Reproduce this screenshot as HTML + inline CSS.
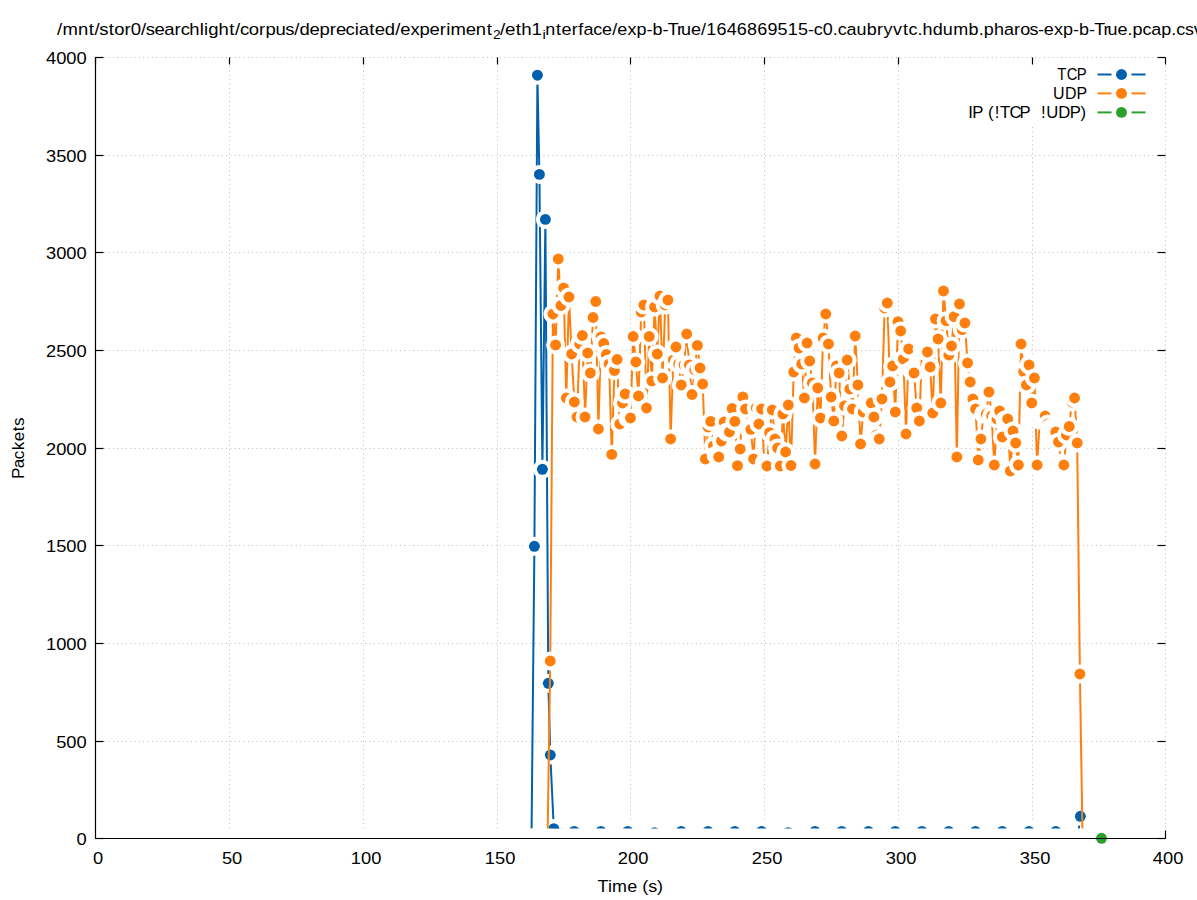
<!DOCTYPE html>
<html><head><meta charset="utf-8"><style>
html,body{margin:0;padding:0;background:#fff;}
svg{display:block;}
text{font-family:"Liberation Sans",sans-serif;font-size:16px;fill:#000;}
</style></head><body>
<svg width="1197" height="900" viewBox="0 0 1197 900">
<rect x="0" y="0" width="1197" height="900" fill="#fff"/>
<defs><clipPath id="cp"><rect x="95" y="57" width="1071" height="771.5"/></clipPath></defs>
<g clip-path="url(#cp)">
<g stroke="#bcbcbc" stroke-width="1" stroke-dasharray="1 3.35" fill="none">
<line x1="95.5" y1="741.5" x2="1165.5" y2="741.5"/>
<line x1="95.5" y1="643.5" x2="1165.5" y2="643.5"/>
<line x1="95.5" y1="545.5" x2="1165.5" y2="545.5"/>
<line x1="95.5" y1="448.5" x2="1165.5" y2="448.5"/>
<line x1="95.5" y1="350.5" x2="1165.5" y2="350.5"/>
<line x1="95.5" y1="252.5" x2="1165.5" y2="252.5"/>
<line x1="95.5" y1="155.5" x2="1165.5" y2="155.5"/>
<line x1="95.5" y1="57.5" x2="1165.5" y2="57.5"/>
<line x1="229.5" y1="57.5" x2="229.5" y2="838.5"/>
<line x1="363.5" y1="57.5" x2="363.5" y2="838.5"/>
<line x1="497.5" y1="57.5" x2="497.5" y2="838.5"/>
<line x1="630.5" y1="57.5" x2="630.5" y2="838.5"/>
<line x1="764.5" y1="57.5" x2="764.5" y2="838.5"/>
<line x1="898.5" y1="57.5" x2="898.5" y2="838.5"/>
<line x1="1032.5" y1="57.5" x2="1032.5" y2="838.5"/>
<line x1="1165.5" y1="57.5" x2="1165.5" y2="838.5"/>
</g>
<rect x="955" y="65" width="200" height="59.5" fill="#fff"/>
<path d="M531.5,838 L534.4,546.3 L537.4,75.2 L539.4,174.4 L542.4,469.3 L545.4,219.4 L548.3,683.3 L550.3,755 L553.8,828.6 L574.2,831.4 L600.95,831.4 L627.7,831.4 L654.45,832.6 L681.2,831.4 L707.95,831.4 L734.7,831.4 L761.45,831.4 L788.2,832.6 L814.95,831.4 L841.7,831.4 L868.45,831.4 L895.2,831.4 L921.95,831.4 L948.7,831.4 L975.45,831.4 L1002.2,831.4 L1028.95,831.4 L1055.7,831.4 L1077.7,838 L1080.4,816.3" fill="none" stroke="#0060ad" stroke-width="2" stroke-linejoin="round"/>
<circle cx="531.5" cy="838" r="9.5" fill="#fff"/><circle cx="531.5" cy="838" r="5.45" fill="#0060ad"/>
<circle cx="534.4" cy="546.3" r="9.5" fill="#fff"/><circle cx="534.4" cy="546.3" r="5.45" fill="#0060ad"/>
<circle cx="537.4" cy="75.2" r="9.5" fill="#fff"/><circle cx="537.4" cy="75.2" r="5.45" fill="#0060ad"/>
<circle cx="539.4" cy="174.4" r="9.5" fill="#fff"/><circle cx="539.4" cy="174.4" r="5.45" fill="#0060ad"/>
<circle cx="542.4" cy="469.3" r="9.5" fill="#fff"/><circle cx="542.4" cy="469.3" r="5.45" fill="#0060ad"/>
<circle cx="545.4" cy="219.4" r="9.5" fill="#fff"/><circle cx="545.4" cy="219.4" r="5.45" fill="#0060ad"/>
<circle cx="548.3" cy="683.3" r="9.5" fill="#fff"/><circle cx="548.3" cy="683.3" r="5.45" fill="#0060ad"/>
<circle cx="550.3" cy="755" r="9.5" fill="#fff"/><circle cx="550.3" cy="755" r="5.45" fill="#0060ad"/>
<circle cx="553.8" cy="828.6" r="9.5" fill="#fff"/><circle cx="553.8" cy="828.6" r="5.45" fill="#0060ad"/>
<circle cx="574.2" cy="831.4" r="9.5" fill="#fff"/><circle cx="574.2" cy="831.4" r="5.45" fill="#0060ad"/>
<circle cx="600.95" cy="831.4" r="9.5" fill="#fff"/><circle cx="600.95" cy="831.4" r="5.45" fill="#0060ad"/>
<circle cx="627.7" cy="831.4" r="9.5" fill="#fff"/><circle cx="627.7" cy="831.4" r="5.45" fill="#0060ad"/>
<circle cx="654.45" cy="832.6" r="9.5" fill="#fff"/><circle cx="654.45" cy="832.6" r="5.45" fill="#0060ad"/>
<circle cx="681.2" cy="831.4" r="9.5" fill="#fff"/><circle cx="681.2" cy="831.4" r="5.45" fill="#0060ad"/>
<circle cx="707.95" cy="831.4" r="9.5" fill="#fff"/><circle cx="707.95" cy="831.4" r="5.45" fill="#0060ad"/>
<circle cx="734.7" cy="831.4" r="9.5" fill="#fff"/><circle cx="734.7" cy="831.4" r="5.45" fill="#0060ad"/>
<circle cx="761.45" cy="831.4" r="9.5" fill="#fff"/><circle cx="761.45" cy="831.4" r="5.45" fill="#0060ad"/>
<circle cx="788.2" cy="832.6" r="9.5" fill="#fff"/><circle cx="788.2" cy="832.6" r="5.45" fill="#0060ad"/>
<circle cx="814.95" cy="831.4" r="9.5" fill="#fff"/><circle cx="814.95" cy="831.4" r="5.45" fill="#0060ad"/>
<circle cx="841.7" cy="831.4" r="9.5" fill="#fff"/><circle cx="841.7" cy="831.4" r="5.45" fill="#0060ad"/>
<circle cx="868.45" cy="831.4" r="9.5" fill="#fff"/><circle cx="868.45" cy="831.4" r="5.45" fill="#0060ad"/>
<circle cx="895.2" cy="831.4" r="9.5" fill="#fff"/><circle cx="895.2" cy="831.4" r="5.45" fill="#0060ad"/>
<circle cx="921.95" cy="831.4" r="9.5" fill="#fff"/><circle cx="921.95" cy="831.4" r="5.45" fill="#0060ad"/>
<circle cx="948.7" cy="831.4" r="9.5" fill="#fff"/><circle cx="948.7" cy="831.4" r="5.45" fill="#0060ad"/>
<circle cx="975.45" cy="831.4" r="9.5" fill="#fff"/><circle cx="975.45" cy="831.4" r="5.45" fill="#0060ad"/>
<circle cx="1002.2" cy="831.4" r="9.5" fill="#fff"/><circle cx="1002.2" cy="831.4" r="5.45" fill="#0060ad"/>
<circle cx="1028.95" cy="831.4" r="9.5" fill="#fff"/><circle cx="1028.95" cy="831.4" r="5.45" fill="#0060ad"/>
<circle cx="1055.7" cy="831.4" r="9.5" fill="#fff"/><circle cx="1055.7" cy="831.4" r="5.45" fill="#0060ad"/>
<circle cx="1077.7" cy="838" r="9.5" fill="#fff"/><circle cx="1077.7" cy="838" r="5.45" fill="#0060ad"/>
<circle cx="1080.4" cy="816.3" r="9.5" fill="#fff"/><circle cx="1080.4" cy="816.3" r="5.45" fill="#0060ad"/>
<path d="M547.58,838 L550.25,661 L552.92,314 L555.6,345 L558.27,259 L560.95,305.5 L563.62,288 L566.3,398 L568.97,297 L571.65,354 L574.33,402 L577,417 L579.67,344 L582.35,335.5 L585.02,417 L587.7,353 L590.38,373 L593.05,317.5 L595.72,301.5 L598.4,429 L601.08,337 L603.75,343.5 L606.42,354.5 L609.1,364 L611.77,454.4 L614.45,370.5 L617.12,359.5 L619.8,424 L622.47,403 L625.15,394 L627.82,418 L630.5,418 L633.17,336.5 L635.85,362 L638.52,396 L641.2,312 L643.88,305 L646.55,408 L649.22,336.5 L651.9,381 L654.57,307 L657.25,354 L659.92,296 L662.6,378 L665.27,305 L667.95,300 L670.62,439 L673.3,360 L675.97,347 L678.65,364 L681.32,385 L684,365 L686.67,334 L689.35,365 L692.02,394.5 L694.7,370 L697.38,345.4 L700.05,368 L702.72,384 L705.4,459 L708.07,427 L710.75,421.4 L713.42,446 L716.1,455 L718.77,457 L721.45,441 L724.12,422 L726.8,432 L729.47,432 L732.15,408.5 L734.82,421.4 L737.5,465.6 L740.17,449 L742.85,397 L745.52,409 L748.2,428 L750.88,429.4 L753.55,459 L756.22,408 L758.9,424 L761.57,409 L764.25,463 L766.92,466 L769.6,432.6 L772.27,410 L774.95,439 L777.62,448 L780.3,466 L782.97,414 L785.65,452 L788.32,405 L791,465.5 L793.67,372 L796.35,338 L799.02,348 L801.7,364 L804.38,398 L807.05,343 L809.72,361 L812.4,383 L815.07,464 L817.75,388 L820.42,418 L823.1,338 L825.77,314 L828.45,344 L831.12,397 L833.8,421 L836.47,366 L839.15,373 L841.82,436 L844.5,406 L847.17,360 L849.85,389 L852.52,409 L855.2,336 L857.88,385 L860.55,444 L863.22,412 L865.9,402 L868.57,405 L871.25,403 L873.92,417 L876.6,435 L879.27,439 L881.95,399 L884.62,308 L887.3,303 L889.97,382 L892.65,366 L895.32,412 L898,321.6 L900.67,331 L903.35,358.9 L906.02,434 L908.7,349 L911.38,370 L914.05,373 L916.72,408 L919.4,421 L922.07,349 L924.75,351 L927.42,352 L930.1,367 L932.77,413 L935.45,319 L938.12,339 L940.8,403 L943.47,291 L946.15,320.7 L948.82,355 L951.5,346 L954.17,316.6 L956.85,457 L959.52,304 L962.2,329.6 L964.87,323 L967.55,363 L970.22,382 L972.9,399 L975.57,409 L978.25,460 L980.92,439 L983.6,414 L986.27,414 L988.95,392 L991.62,416 L994.3,465 L996.97,419 L999.65,411 L1002.32,437 L1005,420 L1007.67,419 L1010.35,471 L1013.02,431 L1015.7,443 L1018.37,465 L1021.05,344 L1023.72,371.6 L1026.4,385 L1029.07,365 L1031.75,403 L1034.42,378 L1037.1,465 L1039.78,420 L1042.45,418 L1045.12,416 L1047.8,424 L1050.47,428 L1053.15,430 L1055.82,432 L1058.5,442 L1061.17,463 L1063.85,465 L1066.53,435 L1069.2,426.5 L1071.88,402 L1074.55,398 L1077.22,443 L1079.9,674 L1082.57,838" fill="none" stroke="#ff7f0e" stroke-width="2" stroke-linejoin="round"/>
<circle cx="547.58" cy="838" r="9.5" fill="#fff"/><circle cx="547.58" cy="838" r="5.45" fill="#ff7f0e"/>
<circle cx="550.25" cy="661" r="9.5" fill="#fff"/><circle cx="550.25" cy="661" r="5.45" fill="#ff7f0e"/>
<circle cx="552.92" cy="314" r="9.5" fill="#fff"/><circle cx="552.92" cy="314" r="5.45" fill="#ff7f0e"/>
<circle cx="555.6" cy="345" r="9.5" fill="#fff"/><circle cx="555.6" cy="345" r="5.45" fill="#ff7f0e"/>
<circle cx="558.27" cy="259" r="9.5" fill="#fff"/><circle cx="558.27" cy="259" r="5.45" fill="#ff7f0e"/>
<circle cx="560.95" cy="305.5" r="9.5" fill="#fff"/><circle cx="560.95" cy="305.5" r="5.45" fill="#ff7f0e"/>
<circle cx="563.62" cy="288" r="9.5" fill="#fff"/><circle cx="563.62" cy="288" r="5.45" fill="#ff7f0e"/>
<circle cx="566.3" cy="398" r="9.5" fill="#fff"/><circle cx="566.3" cy="398" r="5.45" fill="#ff7f0e"/>
<circle cx="568.97" cy="297" r="9.5" fill="#fff"/><circle cx="568.97" cy="297" r="5.45" fill="#ff7f0e"/>
<circle cx="571.65" cy="354" r="9.5" fill="#fff"/><circle cx="571.65" cy="354" r="5.45" fill="#ff7f0e"/>
<circle cx="574.33" cy="402" r="9.5" fill="#fff"/><circle cx="574.33" cy="402" r="5.45" fill="#ff7f0e"/>
<circle cx="577" cy="417" r="9.5" fill="#fff"/><circle cx="577" cy="417" r="5.45" fill="#ff7f0e"/>
<circle cx="579.67" cy="344" r="9.5" fill="#fff"/><circle cx="579.67" cy="344" r="5.45" fill="#ff7f0e"/>
<circle cx="582.35" cy="335.5" r="9.5" fill="#fff"/><circle cx="582.35" cy="335.5" r="5.45" fill="#ff7f0e"/>
<circle cx="585.02" cy="417" r="9.5" fill="#fff"/><circle cx="585.02" cy="417" r="5.45" fill="#ff7f0e"/>
<circle cx="587.7" cy="353" r="9.5" fill="#fff"/><circle cx="587.7" cy="353" r="5.45" fill="#ff7f0e"/>
<circle cx="590.38" cy="373" r="9.5" fill="#fff"/><circle cx="590.38" cy="373" r="5.45" fill="#ff7f0e"/>
<circle cx="593.05" cy="317.5" r="9.5" fill="#fff"/><circle cx="593.05" cy="317.5" r="5.45" fill="#ff7f0e"/>
<circle cx="595.72" cy="301.5" r="9.5" fill="#fff"/><circle cx="595.72" cy="301.5" r="5.45" fill="#ff7f0e"/>
<circle cx="598.4" cy="429" r="9.5" fill="#fff"/><circle cx="598.4" cy="429" r="5.45" fill="#ff7f0e"/>
<circle cx="601.08" cy="337" r="9.5" fill="#fff"/><circle cx="601.08" cy="337" r="5.45" fill="#ff7f0e"/>
<circle cx="603.75" cy="343.5" r="9.5" fill="#fff"/><circle cx="603.75" cy="343.5" r="5.45" fill="#ff7f0e"/>
<circle cx="606.42" cy="354.5" r="9.5" fill="#fff"/><circle cx="606.42" cy="354.5" r="5.45" fill="#ff7f0e"/>
<circle cx="609.1" cy="364" r="9.5" fill="#fff"/><circle cx="609.1" cy="364" r="5.45" fill="#ff7f0e"/>
<circle cx="611.77" cy="454.4" r="9.5" fill="#fff"/><circle cx="611.77" cy="454.4" r="5.45" fill="#ff7f0e"/>
<circle cx="614.45" cy="370.5" r="9.5" fill="#fff"/><circle cx="614.45" cy="370.5" r="5.45" fill="#ff7f0e"/>
<circle cx="617.12" cy="359.5" r="9.5" fill="#fff"/><circle cx="617.12" cy="359.5" r="5.45" fill="#ff7f0e"/>
<circle cx="619.8" cy="424" r="9.5" fill="#fff"/><circle cx="619.8" cy="424" r="5.45" fill="#ff7f0e"/>
<circle cx="622.47" cy="403" r="9.5" fill="#fff"/><circle cx="622.47" cy="403" r="5.45" fill="#ff7f0e"/>
<circle cx="625.15" cy="394" r="9.5" fill="#fff"/><circle cx="625.15" cy="394" r="5.45" fill="#ff7f0e"/>
<circle cx="627.82" cy="418" r="9.5" fill="#fff"/><circle cx="627.82" cy="418" r="5.45" fill="#ff7f0e"/>
<circle cx="630.5" cy="418" r="9.5" fill="#fff"/><circle cx="630.5" cy="418" r="5.45" fill="#ff7f0e"/>
<circle cx="633.17" cy="336.5" r="9.5" fill="#fff"/><circle cx="633.17" cy="336.5" r="5.45" fill="#ff7f0e"/>
<circle cx="635.85" cy="362" r="9.5" fill="#fff"/><circle cx="635.85" cy="362" r="5.45" fill="#ff7f0e"/>
<circle cx="638.52" cy="396" r="9.5" fill="#fff"/><circle cx="638.52" cy="396" r="5.45" fill="#ff7f0e"/>
<circle cx="641.2" cy="312" r="9.5" fill="#fff"/><circle cx="641.2" cy="312" r="5.45" fill="#ff7f0e"/>
<circle cx="643.88" cy="305" r="9.5" fill="#fff"/><circle cx="643.88" cy="305" r="5.45" fill="#ff7f0e"/>
<circle cx="646.55" cy="408" r="9.5" fill="#fff"/><circle cx="646.55" cy="408" r="5.45" fill="#ff7f0e"/>
<circle cx="649.22" cy="336.5" r="9.5" fill="#fff"/><circle cx="649.22" cy="336.5" r="5.45" fill="#ff7f0e"/>
<circle cx="651.9" cy="381" r="9.5" fill="#fff"/><circle cx="651.9" cy="381" r="5.45" fill="#ff7f0e"/>
<circle cx="654.57" cy="307" r="9.5" fill="#fff"/><circle cx="654.57" cy="307" r="5.45" fill="#ff7f0e"/>
<circle cx="657.25" cy="354" r="9.5" fill="#fff"/><circle cx="657.25" cy="354" r="5.45" fill="#ff7f0e"/>
<circle cx="659.92" cy="296" r="9.5" fill="#fff"/><circle cx="659.92" cy="296" r="5.45" fill="#ff7f0e"/>
<circle cx="662.6" cy="378" r="9.5" fill="#fff"/><circle cx="662.6" cy="378" r="5.45" fill="#ff7f0e"/>
<circle cx="665.27" cy="305" r="9.5" fill="#fff"/><circle cx="665.27" cy="305" r="5.45" fill="#ff7f0e"/>
<circle cx="667.95" cy="300" r="9.5" fill="#fff"/><circle cx="667.95" cy="300" r="5.45" fill="#ff7f0e"/>
<circle cx="670.62" cy="439" r="9.5" fill="#fff"/><circle cx="670.62" cy="439" r="5.45" fill="#ff7f0e"/>
<circle cx="673.3" cy="360" r="9.5" fill="#fff"/><circle cx="673.3" cy="360" r="5.45" fill="#ff7f0e"/>
<circle cx="675.97" cy="347" r="9.5" fill="#fff"/><circle cx="675.97" cy="347" r="5.45" fill="#ff7f0e"/>
<circle cx="678.65" cy="364" r="9.5" fill="#fff"/><circle cx="678.65" cy="364" r="5.45" fill="#ff7f0e"/>
<circle cx="681.32" cy="385" r="9.5" fill="#fff"/><circle cx="681.32" cy="385" r="5.45" fill="#ff7f0e"/>
<circle cx="684" cy="365" r="9.5" fill="#fff"/><circle cx="684" cy="365" r="5.45" fill="#ff7f0e"/>
<circle cx="686.67" cy="334" r="9.5" fill="#fff"/><circle cx="686.67" cy="334" r="5.45" fill="#ff7f0e"/>
<circle cx="689.35" cy="365" r="9.5" fill="#fff"/><circle cx="689.35" cy="365" r="5.45" fill="#ff7f0e"/>
<circle cx="692.02" cy="394.5" r="9.5" fill="#fff"/><circle cx="692.02" cy="394.5" r="5.45" fill="#ff7f0e"/>
<circle cx="694.7" cy="370" r="9.5" fill="#fff"/><circle cx="694.7" cy="370" r="5.45" fill="#ff7f0e"/>
<circle cx="697.38" cy="345.4" r="9.5" fill="#fff"/><circle cx="697.38" cy="345.4" r="5.45" fill="#ff7f0e"/>
<circle cx="700.05" cy="368" r="9.5" fill="#fff"/><circle cx="700.05" cy="368" r="5.45" fill="#ff7f0e"/>
<circle cx="702.72" cy="384" r="9.5" fill="#fff"/><circle cx="702.72" cy="384" r="5.45" fill="#ff7f0e"/>
<circle cx="705.4" cy="459" r="9.5" fill="#fff"/><circle cx="705.4" cy="459" r="5.45" fill="#ff7f0e"/>
<circle cx="708.07" cy="427" r="9.5" fill="#fff"/><circle cx="708.07" cy="427" r="5.45" fill="#ff7f0e"/>
<circle cx="710.75" cy="421.4" r="9.5" fill="#fff"/><circle cx="710.75" cy="421.4" r="5.45" fill="#ff7f0e"/>
<circle cx="713.42" cy="446" r="9.5" fill="#fff"/><circle cx="713.42" cy="446" r="5.45" fill="#ff7f0e"/>
<circle cx="716.1" cy="455" r="9.5" fill="#fff"/><circle cx="716.1" cy="455" r="5.45" fill="#ff7f0e"/>
<circle cx="718.77" cy="457" r="9.5" fill="#fff"/><circle cx="718.77" cy="457" r="5.45" fill="#ff7f0e"/>
<circle cx="721.45" cy="441" r="9.5" fill="#fff"/><circle cx="721.45" cy="441" r="5.45" fill="#ff7f0e"/>
<circle cx="724.12" cy="422" r="9.5" fill="#fff"/><circle cx="724.12" cy="422" r="5.45" fill="#ff7f0e"/>
<circle cx="726.8" cy="432" r="9.5" fill="#fff"/><circle cx="726.8" cy="432" r="5.45" fill="#ff7f0e"/>
<circle cx="729.47" cy="432" r="9.5" fill="#fff"/><circle cx="729.47" cy="432" r="5.45" fill="#ff7f0e"/>
<circle cx="732.15" cy="408.5" r="9.5" fill="#fff"/><circle cx="732.15" cy="408.5" r="5.45" fill="#ff7f0e"/>
<circle cx="734.82" cy="421.4" r="9.5" fill="#fff"/><circle cx="734.82" cy="421.4" r="5.45" fill="#ff7f0e"/>
<circle cx="737.5" cy="465.6" r="9.5" fill="#fff"/><circle cx="737.5" cy="465.6" r="5.45" fill="#ff7f0e"/>
<circle cx="740.17" cy="449" r="9.5" fill="#fff"/><circle cx="740.17" cy="449" r="5.45" fill="#ff7f0e"/>
<circle cx="742.85" cy="397" r="9.5" fill="#fff"/><circle cx="742.85" cy="397" r="5.45" fill="#ff7f0e"/>
<circle cx="745.52" cy="409" r="9.5" fill="#fff"/><circle cx="745.52" cy="409" r="5.45" fill="#ff7f0e"/>
<circle cx="748.2" cy="428" r="9.5" fill="#fff"/><circle cx="748.2" cy="428" r="5.45" fill="#ff7f0e"/>
<circle cx="750.88" cy="429.4" r="9.5" fill="#fff"/><circle cx="750.88" cy="429.4" r="5.45" fill="#ff7f0e"/>
<circle cx="753.55" cy="459" r="9.5" fill="#fff"/><circle cx="753.55" cy="459" r="5.45" fill="#ff7f0e"/>
<circle cx="756.22" cy="408" r="9.5" fill="#fff"/><circle cx="756.22" cy="408" r="5.45" fill="#ff7f0e"/>
<circle cx="758.9" cy="424" r="9.5" fill="#fff"/><circle cx="758.9" cy="424" r="5.45" fill="#ff7f0e"/>
<circle cx="761.57" cy="409" r="9.5" fill="#fff"/><circle cx="761.57" cy="409" r="5.45" fill="#ff7f0e"/>
<circle cx="764.25" cy="463" r="9.5" fill="#fff"/><circle cx="764.25" cy="463" r="5.45" fill="#ff7f0e"/>
<circle cx="766.92" cy="466" r="9.5" fill="#fff"/><circle cx="766.92" cy="466" r="5.45" fill="#ff7f0e"/>
<circle cx="769.6" cy="432.6" r="9.5" fill="#fff"/><circle cx="769.6" cy="432.6" r="5.45" fill="#ff7f0e"/>
<circle cx="772.27" cy="410" r="9.5" fill="#fff"/><circle cx="772.27" cy="410" r="5.45" fill="#ff7f0e"/>
<circle cx="774.95" cy="439" r="9.5" fill="#fff"/><circle cx="774.95" cy="439" r="5.45" fill="#ff7f0e"/>
<circle cx="777.62" cy="448" r="9.5" fill="#fff"/><circle cx="777.62" cy="448" r="5.45" fill="#ff7f0e"/>
<circle cx="780.3" cy="466" r="9.5" fill="#fff"/><circle cx="780.3" cy="466" r="5.45" fill="#ff7f0e"/>
<circle cx="782.97" cy="414" r="9.5" fill="#fff"/><circle cx="782.97" cy="414" r="5.45" fill="#ff7f0e"/>
<circle cx="785.65" cy="452" r="9.5" fill="#fff"/><circle cx="785.65" cy="452" r="5.45" fill="#ff7f0e"/>
<circle cx="788.32" cy="405" r="9.5" fill="#fff"/><circle cx="788.32" cy="405" r="5.45" fill="#ff7f0e"/>
<circle cx="791" cy="465.5" r="9.5" fill="#fff"/><circle cx="791" cy="465.5" r="5.45" fill="#ff7f0e"/>
<circle cx="793.67" cy="372" r="9.5" fill="#fff"/><circle cx="793.67" cy="372" r="5.45" fill="#ff7f0e"/>
<circle cx="796.35" cy="338" r="9.5" fill="#fff"/><circle cx="796.35" cy="338" r="5.45" fill="#ff7f0e"/>
<circle cx="799.02" cy="348" r="9.5" fill="#fff"/><circle cx="799.02" cy="348" r="5.45" fill="#ff7f0e"/>
<circle cx="801.7" cy="364" r="9.5" fill="#fff"/><circle cx="801.7" cy="364" r="5.45" fill="#ff7f0e"/>
<circle cx="804.38" cy="398" r="9.5" fill="#fff"/><circle cx="804.38" cy="398" r="5.45" fill="#ff7f0e"/>
<circle cx="807.05" cy="343" r="9.5" fill="#fff"/><circle cx="807.05" cy="343" r="5.45" fill="#ff7f0e"/>
<circle cx="809.72" cy="361" r="9.5" fill="#fff"/><circle cx="809.72" cy="361" r="5.45" fill="#ff7f0e"/>
<circle cx="812.4" cy="383" r="9.5" fill="#fff"/><circle cx="812.4" cy="383" r="5.45" fill="#ff7f0e"/>
<circle cx="815.07" cy="464" r="9.5" fill="#fff"/><circle cx="815.07" cy="464" r="5.45" fill="#ff7f0e"/>
<circle cx="817.75" cy="388" r="9.5" fill="#fff"/><circle cx="817.75" cy="388" r="5.45" fill="#ff7f0e"/>
<circle cx="820.42" cy="418" r="9.5" fill="#fff"/><circle cx="820.42" cy="418" r="5.45" fill="#ff7f0e"/>
<circle cx="823.1" cy="338" r="9.5" fill="#fff"/><circle cx="823.1" cy="338" r="5.45" fill="#ff7f0e"/>
<circle cx="825.77" cy="314" r="9.5" fill="#fff"/><circle cx="825.77" cy="314" r="5.45" fill="#ff7f0e"/>
<circle cx="828.45" cy="344" r="9.5" fill="#fff"/><circle cx="828.45" cy="344" r="5.45" fill="#ff7f0e"/>
<circle cx="831.12" cy="397" r="9.5" fill="#fff"/><circle cx="831.12" cy="397" r="5.45" fill="#ff7f0e"/>
<circle cx="833.8" cy="421" r="9.5" fill="#fff"/><circle cx="833.8" cy="421" r="5.45" fill="#ff7f0e"/>
<circle cx="836.47" cy="366" r="9.5" fill="#fff"/><circle cx="836.47" cy="366" r="5.45" fill="#ff7f0e"/>
<circle cx="839.15" cy="373" r="9.5" fill="#fff"/><circle cx="839.15" cy="373" r="5.45" fill="#ff7f0e"/>
<circle cx="841.82" cy="436" r="9.5" fill="#fff"/><circle cx="841.82" cy="436" r="5.45" fill="#ff7f0e"/>
<circle cx="844.5" cy="406" r="9.5" fill="#fff"/><circle cx="844.5" cy="406" r="5.45" fill="#ff7f0e"/>
<circle cx="847.17" cy="360" r="9.5" fill="#fff"/><circle cx="847.17" cy="360" r="5.45" fill="#ff7f0e"/>
<circle cx="849.85" cy="389" r="9.5" fill="#fff"/><circle cx="849.85" cy="389" r="5.45" fill="#ff7f0e"/>
<circle cx="852.52" cy="409" r="9.5" fill="#fff"/><circle cx="852.52" cy="409" r="5.45" fill="#ff7f0e"/>
<circle cx="855.2" cy="336" r="9.5" fill="#fff"/><circle cx="855.2" cy="336" r="5.45" fill="#ff7f0e"/>
<circle cx="857.88" cy="385" r="9.5" fill="#fff"/><circle cx="857.88" cy="385" r="5.45" fill="#ff7f0e"/>
<circle cx="860.55" cy="444" r="9.5" fill="#fff"/><circle cx="860.55" cy="444" r="5.45" fill="#ff7f0e"/>
<circle cx="863.22" cy="412" r="9.5" fill="#fff"/><circle cx="863.22" cy="412" r="5.45" fill="#ff7f0e"/>
<circle cx="865.9" cy="402" r="9.5" fill="#fff"/><circle cx="865.9" cy="402" r="5.45" fill="#ff7f0e"/>
<circle cx="868.57" cy="405" r="9.5" fill="#fff"/><circle cx="868.57" cy="405" r="5.45" fill="#ff7f0e"/>
<circle cx="871.25" cy="403" r="9.5" fill="#fff"/><circle cx="871.25" cy="403" r="5.45" fill="#ff7f0e"/>
<circle cx="873.92" cy="417" r="9.5" fill="#fff"/><circle cx="873.92" cy="417" r="5.45" fill="#ff7f0e"/>
<circle cx="876.6" cy="435" r="9.5" fill="#fff"/><circle cx="876.6" cy="435" r="5.45" fill="#ff7f0e"/>
<circle cx="879.27" cy="439" r="9.5" fill="#fff"/><circle cx="879.27" cy="439" r="5.45" fill="#ff7f0e"/>
<circle cx="881.95" cy="399" r="9.5" fill="#fff"/><circle cx="881.95" cy="399" r="5.45" fill="#ff7f0e"/>
<circle cx="884.62" cy="308" r="9.5" fill="#fff"/><circle cx="884.62" cy="308" r="5.45" fill="#ff7f0e"/>
<circle cx="887.3" cy="303" r="9.5" fill="#fff"/><circle cx="887.3" cy="303" r="5.45" fill="#ff7f0e"/>
<circle cx="889.97" cy="382" r="9.5" fill="#fff"/><circle cx="889.97" cy="382" r="5.45" fill="#ff7f0e"/>
<circle cx="892.65" cy="366" r="9.5" fill="#fff"/><circle cx="892.65" cy="366" r="5.45" fill="#ff7f0e"/>
<circle cx="895.32" cy="412" r="9.5" fill="#fff"/><circle cx="895.32" cy="412" r="5.45" fill="#ff7f0e"/>
<circle cx="898" cy="321.6" r="9.5" fill="#fff"/><circle cx="898" cy="321.6" r="5.45" fill="#ff7f0e"/>
<circle cx="900.67" cy="331" r="9.5" fill="#fff"/><circle cx="900.67" cy="331" r="5.45" fill="#ff7f0e"/>
<circle cx="903.35" cy="358.9" r="9.5" fill="#fff"/><circle cx="903.35" cy="358.9" r="5.45" fill="#ff7f0e"/>
<circle cx="906.02" cy="434" r="9.5" fill="#fff"/><circle cx="906.02" cy="434" r="5.45" fill="#ff7f0e"/>
<circle cx="908.7" cy="349" r="9.5" fill="#fff"/><circle cx="908.7" cy="349" r="5.45" fill="#ff7f0e"/>
<circle cx="911.38" cy="370" r="9.5" fill="#fff"/><circle cx="911.38" cy="370" r="5.45" fill="#ff7f0e"/>
<circle cx="914.05" cy="373" r="9.5" fill="#fff"/><circle cx="914.05" cy="373" r="5.45" fill="#ff7f0e"/>
<circle cx="916.72" cy="408" r="9.5" fill="#fff"/><circle cx="916.72" cy="408" r="5.45" fill="#ff7f0e"/>
<circle cx="919.4" cy="421" r="9.5" fill="#fff"/><circle cx="919.4" cy="421" r="5.45" fill="#ff7f0e"/>
<circle cx="922.07" cy="349" r="9.5" fill="#fff"/><circle cx="922.07" cy="349" r="5.45" fill="#ff7f0e"/>
<circle cx="924.75" cy="351" r="9.5" fill="#fff"/><circle cx="924.75" cy="351" r="5.45" fill="#ff7f0e"/>
<circle cx="927.42" cy="352" r="9.5" fill="#fff"/><circle cx="927.42" cy="352" r="5.45" fill="#ff7f0e"/>
<circle cx="930.1" cy="367" r="9.5" fill="#fff"/><circle cx="930.1" cy="367" r="5.45" fill="#ff7f0e"/>
<circle cx="932.77" cy="413" r="9.5" fill="#fff"/><circle cx="932.77" cy="413" r="5.45" fill="#ff7f0e"/>
<circle cx="935.45" cy="319" r="9.5" fill="#fff"/><circle cx="935.45" cy="319" r="5.45" fill="#ff7f0e"/>
<circle cx="938.12" cy="339" r="9.5" fill="#fff"/><circle cx="938.12" cy="339" r="5.45" fill="#ff7f0e"/>
<circle cx="940.8" cy="403" r="9.5" fill="#fff"/><circle cx="940.8" cy="403" r="5.45" fill="#ff7f0e"/>
<circle cx="943.47" cy="291" r="9.5" fill="#fff"/><circle cx="943.47" cy="291" r="5.45" fill="#ff7f0e"/>
<circle cx="946.15" cy="320.7" r="9.5" fill="#fff"/><circle cx="946.15" cy="320.7" r="5.45" fill="#ff7f0e"/>
<circle cx="948.82" cy="355" r="9.5" fill="#fff"/><circle cx="948.82" cy="355" r="5.45" fill="#ff7f0e"/>
<circle cx="951.5" cy="346" r="9.5" fill="#fff"/><circle cx="951.5" cy="346" r="5.45" fill="#ff7f0e"/>
<circle cx="954.17" cy="316.6" r="9.5" fill="#fff"/><circle cx="954.17" cy="316.6" r="5.45" fill="#ff7f0e"/>
<circle cx="956.85" cy="457" r="9.5" fill="#fff"/><circle cx="956.85" cy="457" r="5.45" fill="#ff7f0e"/>
<circle cx="959.52" cy="304" r="9.5" fill="#fff"/><circle cx="959.52" cy="304" r="5.45" fill="#ff7f0e"/>
<circle cx="962.2" cy="329.6" r="9.5" fill="#fff"/><circle cx="962.2" cy="329.6" r="5.45" fill="#ff7f0e"/>
<circle cx="964.87" cy="323" r="9.5" fill="#fff"/><circle cx="964.87" cy="323" r="5.45" fill="#ff7f0e"/>
<circle cx="967.55" cy="363" r="9.5" fill="#fff"/><circle cx="967.55" cy="363" r="5.45" fill="#ff7f0e"/>
<circle cx="970.22" cy="382" r="9.5" fill="#fff"/><circle cx="970.22" cy="382" r="5.45" fill="#ff7f0e"/>
<circle cx="972.9" cy="399" r="9.5" fill="#fff"/><circle cx="972.9" cy="399" r="5.45" fill="#ff7f0e"/>
<circle cx="975.57" cy="409" r="9.5" fill="#fff"/><circle cx="975.57" cy="409" r="5.45" fill="#ff7f0e"/>
<circle cx="978.25" cy="460" r="9.5" fill="#fff"/><circle cx="978.25" cy="460" r="5.45" fill="#ff7f0e"/>
<circle cx="980.92" cy="439" r="9.5" fill="#fff"/><circle cx="980.92" cy="439" r="5.45" fill="#ff7f0e"/>
<circle cx="983.6" cy="414" r="9.5" fill="#fff"/><circle cx="983.6" cy="414" r="5.45" fill="#ff7f0e"/>
<circle cx="986.27" cy="414" r="9.5" fill="#fff"/><circle cx="986.27" cy="414" r="5.45" fill="#ff7f0e"/>
<circle cx="988.95" cy="392" r="9.5" fill="#fff"/><circle cx="988.95" cy="392" r="5.45" fill="#ff7f0e"/>
<circle cx="991.62" cy="416" r="9.5" fill="#fff"/><circle cx="991.62" cy="416" r="5.45" fill="#ff7f0e"/>
<circle cx="994.3" cy="465" r="9.5" fill="#fff"/><circle cx="994.3" cy="465" r="5.45" fill="#ff7f0e"/>
<circle cx="996.97" cy="419" r="9.5" fill="#fff"/><circle cx="996.97" cy="419" r="5.45" fill="#ff7f0e"/>
<circle cx="999.65" cy="411" r="9.5" fill="#fff"/><circle cx="999.65" cy="411" r="5.45" fill="#ff7f0e"/>
<circle cx="1002.32" cy="437" r="9.5" fill="#fff"/><circle cx="1002.32" cy="437" r="5.45" fill="#ff7f0e"/>
<circle cx="1005" cy="420" r="9.5" fill="#fff"/><circle cx="1005" cy="420" r="5.45" fill="#ff7f0e"/>
<circle cx="1007.67" cy="419" r="9.5" fill="#fff"/><circle cx="1007.67" cy="419" r="5.45" fill="#ff7f0e"/>
<circle cx="1010.35" cy="471" r="9.5" fill="#fff"/><circle cx="1010.35" cy="471" r="5.45" fill="#ff7f0e"/>
<circle cx="1013.02" cy="431" r="9.5" fill="#fff"/><circle cx="1013.02" cy="431" r="5.45" fill="#ff7f0e"/>
<circle cx="1015.7" cy="443" r="9.5" fill="#fff"/><circle cx="1015.7" cy="443" r="5.45" fill="#ff7f0e"/>
<circle cx="1018.37" cy="465" r="9.5" fill="#fff"/><circle cx="1018.37" cy="465" r="5.45" fill="#ff7f0e"/>
<circle cx="1021.05" cy="344" r="9.5" fill="#fff"/><circle cx="1021.05" cy="344" r="5.45" fill="#ff7f0e"/>
<circle cx="1023.72" cy="371.6" r="9.5" fill="#fff"/><circle cx="1023.72" cy="371.6" r="5.45" fill="#ff7f0e"/>
<circle cx="1026.4" cy="385" r="9.5" fill="#fff"/><circle cx="1026.4" cy="385" r="5.45" fill="#ff7f0e"/>
<circle cx="1029.07" cy="365" r="9.5" fill="#fff"/><circle cx="1029.07" cy="365" r="5.45" fill="#ff7f0e"/>
<circle cx="1031.75" cy="403" r="9.5" fill="#fff"/><circle cx="1031.75" cy="403" r="5.45" fill="#ff7f0e"/>
<circle cx="1034.42" cy="378" r="9.5" fill="#fff"/><circle cx="1034.42" cy="378" r="5.45" fill="#ff7f0e"/>
<circle cx="1037.1" cy="465" r="9.5" fill="#fff"/><circle cx="1037.1" cy="465" r="5.45" fill="#ff7f0e"/>
<circle cx="1039.78" cy="420" r="9.5" fill="#fff"/><circle cx="1039.78" cy="420" r="5.45" fill="#ff7f0e"/>
<circle cx="1042.45" cy="418" r="9.5" fill="#fff"/><circle cx="1042.45" cy="418" r="5.45" fill="#ff7f0e"/>
<circle cx="1045.12" cy="416" r="9.5" fill="#fff"/><circle cx="1045.12" cy="416" r="5.45" fill="#ff7f0e"/>
<circle cx="1047.8" cy="424" r="9.5" fill="#fff"/><circle cx="1047.8" cy="424" r="5.45" fill="#ff7f0e"/>
<circle cx="1050.47" cy="428" r="9.5" fill="#fff"/><circle cx="1050.47" cy="428" r="5.45" fill="#ff7f0e"/>
<circle cx="1053.15" cy="430" r="9.5" fill="#fff"/><circle cx="1053.15" cy="430" r="5.45" fill="#ff7f0e"/>
<circle cx="1055.82" cy="432" r="9.5" fill="#fff"/><circle cx="1055.82" cy="432" r="5.45" fill="#ff7f0e"/>
<circle cx="1058.5" cy="442" r="9.5" fill="#fff"/><circle cx="1058.5" cy="442" r="5.45" fill="#ff7f0e"/>
<circle cx="1061.17" cy="463" r="9.5" fill="#fff"/><circle cx="1061.17" cy="463" r="5.45" fill="#ff7f0e"/>
<circle cx="1063.85" cy="465" r="9.5" fill="#fff"/><circle cx="1063.85" cy="465" r="5.45" fill="#ff7f0e"/>
<circle cx="1066.53" cy="435" r="9.5" fill="#fff"/><circle cx="1066.53" cy="435" r="5.45" fill="#ff7f0e"/>
<circle cx="1069.2" cy="426.5" r="9.5" fill="#fff"/><circle cx="1069.2" cy="426.5" r="5.45" fill="#ff7f0e"/>
<circle cx="1071.88" cy="402" r="9.5" fill="#fff"/><circle cx="1071.88" cy="402" r="5.45" fill="#ff7f0e"/>
<circle cx="1074.55" cy="398" r="9.5" fill="#fff"/><circle cx="1074.55" cy="398" r="5.45" fill="#ff7f0e"/>
<circle cx="1077.22" cy="443" r="9.5" fill="#fff"/><circle cx="1077.22" cy="443" r="5.45" fill="#ff7f0e"/>
<circle cx="1079.9" cy="674" r="9.5" fill="#fff"/><circle cx="1079.9" cy="674" r="5.45" fill="#ff7f0e"/>
<circle cx="1082.57" cy="838" r="9.5" fill="#fff"/><circle cx="1082.57" cy="838" r="5.45" fill="#ff7f0e"/>
</g>
<circle cx="1101.5" cy="838.3" r="5.45" fill="#2ca02c"/>
<g stroke="#000" stroke-width="1.2" fill="none">
<path d="M95.5,57 L95.5,838.5 L1165.5,838.5"/>
<line x1="95.5" y1="838.5" x2="103.5" y2="838.5"/><line x1="1157.5" y1="838.5" x2="1165.5" y2="838.5"/>
<line x1="95.5" y1="741.5" x2="103.5" y2="741.5"/><line x1="1157.5" y1="741.5" x2="1165.5" y2="741.5"/>
<line x1="95.5" y1="643.5" x2="103.5" y2="643.5"/><line x1="1157.5" y1="643.5" x2="1165.5" y2="643.5"/>
<line x1="95.5" y1="545.5" x2="103.5" y2="545.5"/><line x1="1157.5" y1="545.5" x2="1165.5" y2="545.5"/>
<line x1="95.5" y1="448.5" x2="103.5" y2="448.5"/><line x1="1157.5" y1="448.5" x2="1165.5" y2="448.5"/>
<line x1="95.5" y1="350.5" x2="103.5" y2="350.5"/><line x1="1157.5" y1="350.5" x2="1165.5" y2="350.5"/>
<line x1="95.5" y1="252.5" x2="103.5" y2="252.5"/><line x1="1157.5" y1="252.5" x2="1165.5" y2="252.5"/>
<line x1="95.5" y1="155.5" x2="103.5" y2="155.5"/><line x1="1157.5" y1="155.5" x2="1165.5" y2="155.5"/>
<line x1="95.5" y1="57.5" x2="103.5" y2="57.5"/><line x1="1157.5" y1="57.5" x2="1165.5" y2="57.5"/>
<line x1="95.5" y1="57.5" x2="95.5" y2="64.5"/>
<line x1="229.5" y1="57.5" x2="229.5" y2="64.5"/>
<line x1="363.5" y1="57.5" x2="363.5" y2="64.5"/>
<line x1="497.5" y1="57.5" x2="497.5" y2="64.5"/>
<line x1="630.5" y1="57.5" x2="630.5" y2="64.5"/>
<line x1="764.5" y1="57.5" x2="764.5" y2="64.5"/>
<line x1="898.5" y1="57.5" x2="898.5" y2="64.5"/>
<line x1="1032.5" y1="57.5" x2="1032.5" y2="64.5"/>
<line x1="1165.5" y1="57.5" x2="1165.5" y2="64.5"/>
<line x1="1165.5" y1="830.5" x2="1165.5" y2="838.5"/>
</g>
<text transform="scale(1.0767,1)" x="71.07" y="844.9" style="font-size:17.00px">0</text>
<text transform="scale(1.0767,1)" x="52.16 61.62 71.07" y="747.9" style="font-size:17.00px">500</text>
<text transform="scale(1.0767,1)" x="42.71 52.16 61.62 71.07" y="649.9" style="font-size:17.00px">1000</text>
<text transform="scale(1.0767,1)" x="42.71 52.16 61.62 71.07" y="551.9" style="font-size:17.00px">1500</text>
<text transform="scale(1.0767,1)" x="42.71 52.16 61.62 71.07" y="454.9" style="font-size:17.00px">2000</text>
<text transform="scale(1.0767,1)" x="42.71 52.16 61.62 71.07" y="356.9" style="font-size:17.00px">2500</text>
<text transform="scale(1.0767,1)" x="42.71 52.16 61.62 71.07" y="258.9" style="font-size:17.00px">3000</text>
<text transform="scale(1.0767,1)" x="42.71 52.16 61.62 71.07" y="161.9" style="font-size:17.00px">3500</text>
<text transform="scale(1.0767,1)" x="42.71 52.16 61.62 71.07" y="63.9" style="font-size:17.00px">4000</text>
<text transform="scale(1.0767,1)" x="86.39" y="864.2" style="font-size:17.00px">0</text>
<text transform="scale(1.0767,1)" x="206.12 215.57" y="864.2" style="font-size:17.00px">50</text>
<text transform="scale(1.0767,1)" x="325.84 335.30 344.75" y="864.2" style="font-size:17.00px">100</text>
<text transform="scale(1.0767,1)" x="450.30 459.76 469.21" y="864.2" style="font-size:17.00px">150</text>
<text transform="scale(1.0767,1)" x="573.83 583.28 592.74" y="864.2" style="font-size:17.00px">200</text>
<text transform="scale(1.0767,1)" x="698.28 707.74 717.19" y="864.2" style="font-size:17.00px">250</text>
<text transform="scale(1.0767,1)" x="822.74 832.20 841.65" y="864.2" style="font-size:17.00px">300</text>
<text transform="scale(1.0767,1)" x="947.20 956.65 966.11" y="864.2" style="font-size:17.00px">350</text>
<text transform="scale(1.0767,1)" x="1070.73 1080.18 1089.63" y="864.2" style="font-size:17.00px">400</text>
<text transform="scale(1.0866,1)" x="52.58 57.51 71.70 81.62 86.99 91.41 100.02 105.05 114.48 120.29 129.82 134.25 142.14 151.18 160.61 166.27 174.18 183.73 187.82 191.70 201.04 210.96 216.33 220.97 229.04 238.47 244.28 253.61 262.59 270.80 275.59 284.79 293.99 303.59 309.25 317.98 326.43 330.15 339.92 344.97 354.17 363.69 368.33 377.70 385.99 395.19 404.65 410.66 414.69 428.74 437.94 447.86" y="35" style="font-size:17.00px">/mnt/stor0/searchlight/corpus/depreciated/experiment</text>
<text transform="scale(1.0724,1)" x="459.84" y="39.5" style="font-size:12.75px">2</text>
<text transform="scale(1.1062,1)" x="452.04 456.56 466.21 471.27 480.45" y="35" style="font-size:17.00px">/eth1</text>
<text transform="scale(1.1725,1)" x="462.77" y="39.5" style="font-size:12.75px">i</text>
<text transform="scale(1.0570,1)" x="515.81 525.94 531.20 540.87 547.11 552.05 561.32 569.66 579.24 584.08 593.69 602.23 611.66 617.30 626.73 631.72 640.43 644.22 653.67 663.24 668.24 677.87 687.50 697.14 706.77 716.40 726.03 735.66 745.29 754.92 764.36 769.83 778.33 787.92 792.60 800.92 810.36 819.96 829.77 835.94 844.90 854.23 859.47 867.93 872.77 882.37 891.97 901.78 916.31 925.89 930.73 940.34 949.77 959.42 965.26 973.98 982.07 987.57 997.18 1005.72 1015.15 1020.79 1030.22 1035.21 1043.92 1047.71 1057.16 1066.59 1071.43 1080.87 1089.20 1098.64 1108.21 1112.89 1121.00 1129.42" y="35" style="font-size:17.00px">nterface/exp-b-True/1646869515-c0.caubryvtc.hdumb.pharos-exp-b-True.pcap.csv</text>
<text transform="scale(1.0547,1)" x="566.42 576.47 580.30 594.71 604.16 609.06 614.55 622.88" y="891.8" style="font-size:17.00px">Time&#160;(s)</text>
<g transform="translate(23.9,447.8) rotate(-90)"><text transform="scale(1.0034,1)" x="-31.10 -20.46 -11.43 -2.43 6.61 16.44 21.83" y="0" style="font-size:17.00px">Packets</text></g>
<text transform="scale(0.8722,1)" x="1212.05 1223.11 1234.44" y="79.7" style="font-size:17.00px">TCP</text>
<text transform="scale(0.9384,1)" x="1122.08 1134.89 1147.06" y="98.6" style="font-size:17.00px">UDP</text>
<text transform="scale(0.9833,1)" x="984.68 988.67 999.47 1004.76 1011.67 1017.07 1026.77 1036.87 1047.67 1052.85 1058.69 1064.13 1076.35 1087.99 1098.91" y="117.6" style="font-size:17.00px">IP&#160;(!TCP&#160;&#160;!UDP)</text>
<g stroke-width="2">
<line x1="1097.5" y1="74.5" x2="1111.5" y2="74.5" stroke="#0060ad"/><line x1="1131.5" y1="74.5" x2="1145.5" y2="74.5" stroke="#0060ad"/>
<line x1="1097.5" y1="93.4" x2="1111.5" y2="93.4" stroke="#ff7f0e"/><line x1="1131.5" y1="93.4" x2="1145.5" y2="93.4" stroke="#ff7f0e"/>
<line x1="1097.5" y1="112.4" x2="1111.5" y2="112.4" stroke="#2ca02c"/><line x1="1131.5" y1="112.4" x2="1145.5" y2="112.4" stroke="#2ca02c"/>
</g>
<circle cx="1121.5" cy="74.5" r="5.45" fill="#0060ad"/>
<circle cx="1121.5" cy="93.4" r="5.45" fill="#ff7f0e"/>
<circle cx="1121.5" cy="112.4" r="5.45" fill="#2ca02c"/>
</svg>
</body></html>
